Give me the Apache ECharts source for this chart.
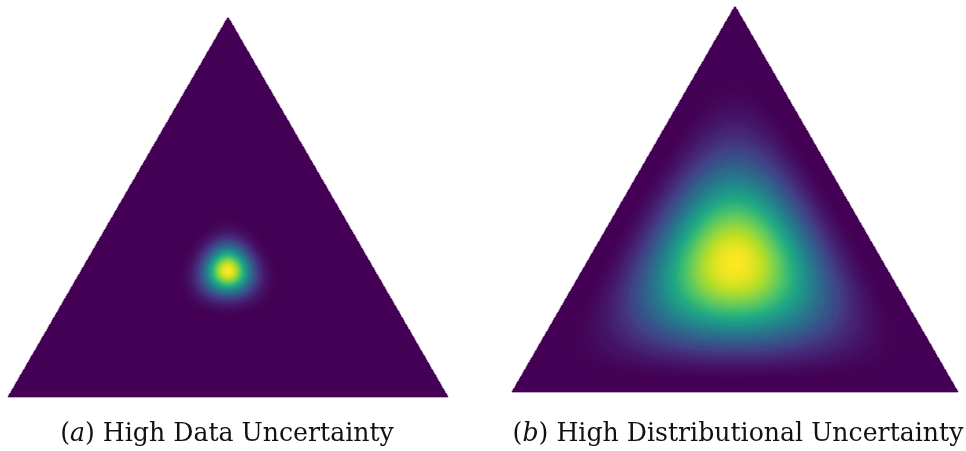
<!DOCTYPE html>
<html>
<head>
<meta charset="utf-8">
<style>
  html, body { margin: 0; padding: 0; background: #ffffff; }
  #chart { width: 966px; height: 451px; }
</style>
<script src="https://cdn.jsdelivr.net/npm/echarts@6/dist/echarts.min.js"></script>
</head>
<body>
<div id="chart"></div>
<script>
// ---- data ----
// Dirichlet concentration parameters estimated from the two density plots
const alphaA = [42, 42, 42];   // sharp peak at the simplex centre
const alphaB = [4, 4, 4];      // broad peak at the simplex centre
const captionLabelsA = ['(', 'a', ') High Data Uncertainty'];
const captionLabelsB = ['(', 'b', ') High Distributional Uncertainty'];
const viridisStops = ['#440154', '#482475', '#414487', '#355f8d', '#2a788e',
                      '#21918c', '#22a884', '#44bf70', '#7ad151', '#bddf26', '#fde725'];
const densityRange = [0, 1];

// ---- density grid over the simplex (barycentric coords on the cell centres) ----
function simplexDensity(alpha, nx, ny) {
  const s = alpha[0] + alpha[1] + alpha[2];
  const mode = alpha.map(a => (a - 1) / (s - 3));
  const logMax = alpha.reduce((acc, a, k) => acc + (a - 1) * Math.log(mode[k]), 0);
  const out = [];
  for (let j = 0; j < ny; j++) {
    const v = (j + 0.5) / ny;
    for (let i = 0; i < nx; i++) {
      const u = (i + 0.5) / nx;
      const xt = v;
      const xr = u - v / 2;
      const xl = 1 - u - v / 2;
      if (xt <= 0 || xr <= 0 || xl <= 0) continue;
      const lp = (alpha[0] - 1) * Math.log(xl) + (alpha[1] - 1) * Math.log(xr) + (alpha[2] - 1) * Math.log(xt);
      out.push([i, j, Math.exp(lp - logMax)]);
    }
  }
  return out;
}
function idx(n) { return Array.from({ length: n }, (_, k) => k); }

const NXA = 440, NYA = 380, NXB = 446, NYB = 386;
const dataA = simplexDensity(alphaA, NXA, NYA);
const dataB = simplexDensity(alphaB, NXB, NYB);

const chart = echarts.init(document.getElementById('chart'), null, { renderer: 'canvas' });
const hiddenAxis = { show: false };
const serifFamily = '"DejaVu Serif", "Liberation Serif", serif';
const captionSize = 25.2;
const captionFont = captionSize + 'px ' + serifFamily;
const richCaption = {
  i: { fontStyle: 'italic', fontFamily: serifFamily, fontSize: captionSize, fill: '#111' },
  n: { fontFamily: serifFamily, fontSize: captionSize, fill: '#111' }
};
function caption(parts) {
  return '{n|' + parts[0] + '}{i|' + parts[1] + '}{n|' + parts[2] + '}';
}

chart.setOption({
  animation: false,
  backgroundColor: '#ffffff',
  grid: [
    { left: 8, top: 17, width: 440, height: 380 },
    { left: 512, top: 6, width: 446, height: 386 }
  ],
  xAxis: [
    Object.assign({ type: 'category', gridIndex: 0, data: idx(NXA) }, hiddenAxis),
    Object.assign({ type: 'category', gridIndex: 1, data: idx(NXB) }, hiddenAxis)
  ],
  yAxis: [
    Object.assign({ type: 'category', gridIndex: 0, data: idx(NYA) }, hiddenAxis),
    Object.assign({ type: 'category', gridIndex: 1, data: idx(NYB) }, hiddenAxis)
  ],
  visualMap: {
    show: false,
    type: 'continuous',
    min: densityRange[0],
    max: densityRange[1],
    seriesIndex: [0, 1],
    inRange: { color: viridisStops }
  },
  series: [
    { type: 'heatmap', xAxisIndex: 0, yAxisIndex: 0, data: dataA, progressive: 0,
      itemStyle: { borderWidth: 0 }, emphasis: { disabled: true }, silent: true },
    { type: 'heatmap', xAxisIndex: 1, yAxisIndex: 1, data: dataB, progressive: 0,
      itemStyle: { borderWidth: 0 }, emphasis: { disabled: true }, silent: true }
  ],
  graphic: [
    { type: 'text', x: 227, y: 434, silent: true,
      style: { text: caption(captionLabelsA), rich: richCaption, font: captionFont,
               textAlign: 'center', textVerticalAlign: 'middle', fill: '#111' } },
    { type: 'text', x: 738, y: 434, silent: true,
      style: { text: caption(captionLabelsB), rich: richCaption, font: captionFont,
               textAlign: 'center', textVerticalAlign: 'middle', fill: '#111' } }
  ]
});
</script>
</body>
</html>
